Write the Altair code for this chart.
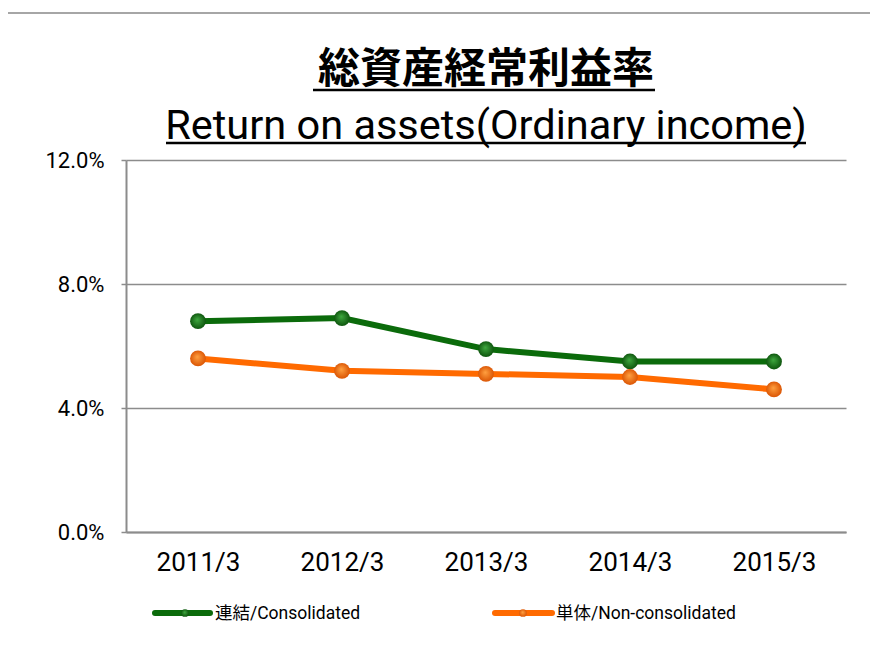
import altair as alt
import pandas as pd

periods = ["2011/3", "2012/3", "2013/3", "2014/3", "2015/3"]
series_names = ["連結/Consolidated", "単体/Non-consolidated"]
consolidated = [6.8, 6.9, 5.9, 5.5, 5.5]
non_consolidated = [5.6, 5.2, 5.1, 5.0, 4.6]
line_colors = ["#0B6B0B", "#FF6A00"]
light_colors = ["#3FA83F", "#FFA040"]
dark_colors = ["#0A4F0A", "#D85000"]
y_ticks = [0, 0.04, 0.08, 0.12]
title_jp = "総資産経常利益率"
title_en = "Return on assets(Ordinary income)"

LAT = "Roboto, 'Noto Sans CJK JP', sans-serif"
CJK = "'Noto Sans CJK JP', sans-serif"

rows = []
for name, vals in zip(series_names, [consolidated, non_consolidated]):
    for p, v in zip(periods, vals):
        rows.append({"period": p, "series": name, "roa": v / 100})
df = pd.DataFrame(rows)

W, H = 720, 372

x_enc = alt.X("period:O", sort=periods,
              axis=alt.Axis(title=None, labelAngle=0, ticks=False, domain=True,
                            domainColor="#8c8c8c", domainWidth=2,
                            labelFont=LAT, labelFontSize=26, labelColor="black",
                            labelPadding=17))
y_enc = alt.Y("roa:Q", scale=alt.Scale(domain=[0, 0.12], nice=False),
              axis=alt.Axis(values=y_ticks, format=".1%", title=None, grid=True,
                            gridColor="#8c8c8c", gridWidth=1.5,
                            domainColor="#8c8c8c", domainWidth=2,
                            tickColor="#8c8c8c", tickSize=5, tickWidth=1.5,
                            labelFont=LAT, labelFontSize=22, labelColor="black",
                            labelPadding=17))

lines = alt.Chart(df).mark_line(strokeWidth=6).encode(
    x=x_enc, y=y_enc,
    color=alt.Color("series:N", scale=alt.Scale(domain=series_names, range=line_colors), legend=None),
)

layers = [lines]

legend_pos = [(29, 84, 59, 89), (369, 426, 397, 430)]
LEG_Y = 453

for i, name in enumerate(series_names):
    grad = alt.RadialGradient(
        gradient="radial",
        stops=[alt.GradientStop(offset=0, color=light_colors[i]),
               alt.GradientStop(offset=1, color=dark_colors[i])],
        x1=0.45, y1=0.4, r1=0, x2=0.5, y2=0.5, r2=0.55,
    )
    pts = alt.Chart(df).transform_filter(alt.datum.series == name).mark_point(
        filled=True, size=250, opacity=1, fill=grad, strokeWidth=0
    ).encode(x=x_enc, y=y_enc)
    layers.append(pts)

    x0, x1, xm, xt = legend_pos[i]
    leg_data = alt.Data(values=[{"series": name}])
    layers.append(alt.Chart(leg_data).mark_rule(strokeWidth=6, color=line_colors[i], strokeCap="round").encode(
        x=alt.value(x0), x2=alt.value(x1), y=alt.value(LEG_Y)))
    layers.append(alt.Chart(leg_data).mark_point(filled=True, size=60, opacity=1, fill=grad, strokeWidth=0).encode(
        x=alt.value(xm), y=alt.value(LEG_Y)))
    layers.append(alt.Chart(leg_data).mark_text(align="left", baseline="middle", font=LAT,
                                                fontSize=17.5, color="black").encode(
        x=alt.value(xt), y=alt.value(LEG_Y + 1), text="series:N"))

one = alt.Data(values=[{"k": 1}])
# titles
layers.append(alt.Chart(alt.Data(values=[{"t": title_jp}])).mark_text(
    align="center", baseline="alphabetic", font=CJK, fontSize=42, fontWeight="bold", color="black").encode(
    x=alt.value(W / 2), y=alt.value(-77), text="t:N"))
layers.append(alt.Chart(alt.Data(values=[{"t": title_en}])).mark_text(
    align="center", baseline="alphabetic", font=LAT, fontSize=41.5, color="black").encode(
    x=alt.value(W / 2), y=alt.value(-21), text="t:N"))
# title underlines
layers.append(alt.Chart(one).mark_rule(strokeWidth=2.5, color="black").encode(
    x=alt.value(187), x2=alt.value(529), y=alt.value(-70)))
layers.append(alt.Chart(one).mark_rule(strokeWidth=2.5, color="black").encode(
    x=alt.value(40), x2=alt.value(680), y=alt.value(-17)))
# outer chart border
layers.append(alt.Chart(one).mark_rect(fillOpacity=0, stroke="#a6a6a6", strokeWidth=2).encode(
    x=alt.value(-119), x2=alt.value(780), y=alt.value(-147), y2=alt.value(530)))

chart = alt.layer(*layers).properties(
    width=W, height=H,
    autosize=alt.AutoSizeParams(type="none"),
    padding={"left": 118, "top": 152, "right": 24, "bottom": 123},
    background="white",
).configure_view(stroke=None)

chart.save("out.html", embed_options={"renderer": "svg", "actions": False})
